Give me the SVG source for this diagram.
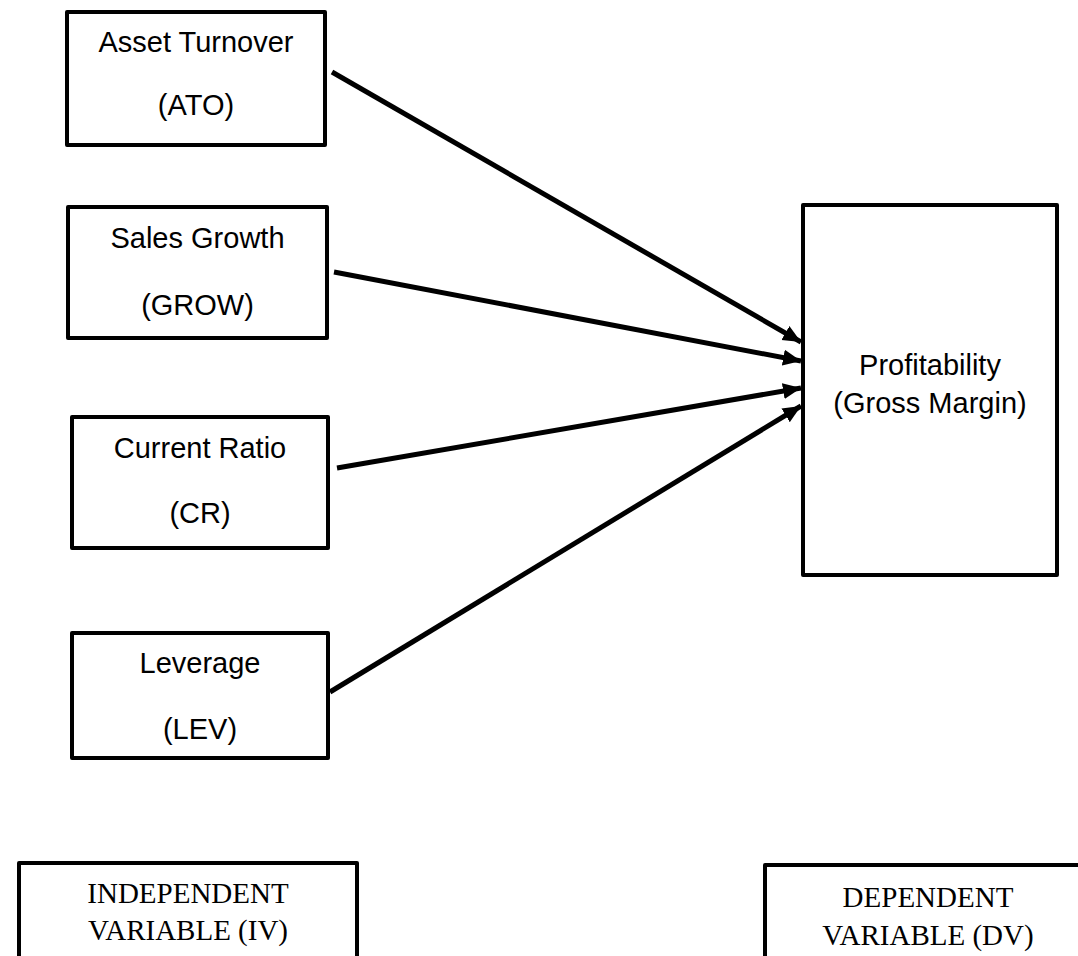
<svg xmlns="http://www.w3.org/2000/svg" width="1078" height="956" viewBox="0 0 1078 956">
<style>
.box{fill:#fff;stroke:#000;stroke-width:4;stroke-linejoin:round}
.lbl{font-family:"Liberation Sans",Arial,sans-serif;font-size:29px;fill:#000;text-anchor:middle}
.ser{font-family:"Liberation Serif","Times New Roman",serif;font-size:29px;fill:#000;text-anchor:middle}
.con{stroke:#000;stroke-width:5;fill:none;marker-end:url(#ah)}
</style>
<defs>
<marker id="ah" markerUnits="userSpaceOnUse" markerWidth="20" markerHeight="18" refX="18" refY="8" orient="auto" viewBox="0 0 20 16">
<path d="M0,0 L18,8 L0,16 Z" fill="#000"/>
</marker>
</defs>
<rect width="1078" height="956" fill="#fff"/>
<g id="connectors">
<line class="con" x1="332" y1="72" x2="801" y2="342"/>
<line class="con" x1="334" y1="272" x2="801" y2="361"/>
<line class="con" x1="337" y1="468" x2="801" y2="388"/>
<line class="con" x1="330" y1="692" x2="801" y2="406"/>
</g>
<g id="ato">
<rect class="box" x="67" y="12" width="258" height="133"/>
<text class="lbl" x="196" y="52">Asset Turnover</text>
<text class="lbl" x="196" y="115">(ATO)</text>
</g>
<g id="grow">
<rect class="box" x="68" y="207" width="259" height="131"/>
<text class="lbl" x="197.5" y="248">Sales Growth</text>
<text class="lbl" x="197.5" y="315">(GROW)</text>
</g>
<g id="cr">
<rect class="box" x="72" y="417" width="256" height="131"/>
<text class="lbl" x="200" y="458">Current Ratio</text>
<text class="lbl" x="200" y="523">(CR)</text>
</g>
<g id="lev">
<rect class="box" x="72" y="633" width="256" height="125"/>
<text class="lbl" x="200" y="673">Leverage</text>
<text class="lbl" x="200" y="739">(LEV)</text>
</g>
<g id="prof">
<rect class="box" x="803" y="205" width="254" height="370"/>
<text class="lbl" x="930" y="375">Profitability</text>
<text class="lbl" x="930" y="413">(Gross Margin)</text>
</g>
<g id="iv">
<rect class="box" x="19" y="863" width="338" height="110"/>
<text class="ser" x="188" y="903">INDEPENDENT</text>
<text class="ser" x="188" y="940">VARIABLE (IV)</text>
</g>
<g id="dv">
<rect class="box" x="765" y="865" width="330" height="110"/>
<text class="ser" x="928" y="907">DEPENDENT</text>
<text class="ser" x="928" y="945">VARIABLE (DV)</text>
</g>
</svg>
